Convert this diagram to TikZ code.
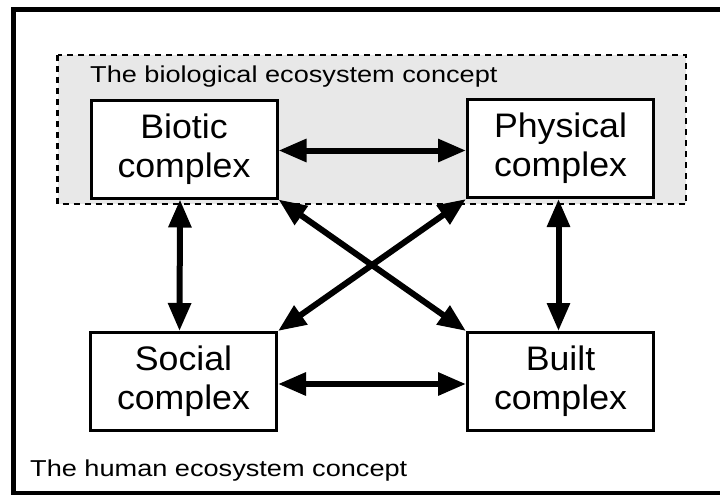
\documentclass[tikz,border=0pt]{standalone}
\usepackage{fontspec}
\setmainfont{Liberation Sans}
\newfontfamily\boxfont[FakeStretch=1.05]{Liberation Sans}
\newfontfamily\lblfont[FakeStretch=1.18]{Liberation Sans}
\usetikzlibrary{arrows.meta}
\definecolor{biogray}{HTML}{E8E8E8}
\tikzset{
  cplx/.style={draw=black, line width=3pt, fill=white, minimum width=186pt, minimum height=98pt,
    inner sep=0pt, align=center, font=\boxfont\fontsize{34}{39}\selectfont},
  lbl/.style={anchor=base west, inner sep=0pt, font=\lblfont\fontsize{23}{27}\selectfont},
  link/.style={line width=6pt, {Triangle[length=28pt,width=22pt]}-{Triangle[length=28pt,width=22pt]}},
  frame/.style={draw=black, line width=4.5pt},
  bioregion/.style={draw=black, line width=2.5pt, fill=biogray, dash pattern=on 6pt off 5pt}
}
\begin{document}
\begin{tikzpicture}[x=1pt, y=-1pt]
\useasboundingbox (0,0) rectangle (720,495);
\fill[white] (0,0) rectangle (720,495);
\draw[frame] (13.5,9.5) rectangle (723,493.5);
\draw[bioregion] (57.5,55) rectangle (686,204);
\node[lbl] (biolbl) at (90,82.7) {The biological ecosystem concept};
\node[lbl] (humlbl) at (30,476.7) {The human ecosystem concept};
\node[cplx] (bio) at (184,149) {Biotic\\complex};
\node[cplx] (phys) at (560.5,148.5) {Physical\\complex};
\node[cplx] (soc) at (183.5,381.5) {Social\\complex};
\node[cplx] (built) at (560.5,381.5) {Built\\complex};
\draw[link] ([yshift=-1.5pt]bio.east) -- ([yshift=-1.5pt]bio.east -| phys.west);
\draw[link] ([yshift=-2.5pt]soc.east) -- ([yshift=-2.5pt]soc.east -| built.west);
\draw[link] ([xshift=-4pt]bio.south) -- ([xshift=-4pt]soc.north);
\draw[link] ([xshift=-2pt]phys.south) -- ([xshift=-2pt]built.north);
\draw[link] (bio.south east) -- (built.north west);
\draw[link] (phys.south west) -- (soc.north east);
\end{tikzpicture}
\end{document}
